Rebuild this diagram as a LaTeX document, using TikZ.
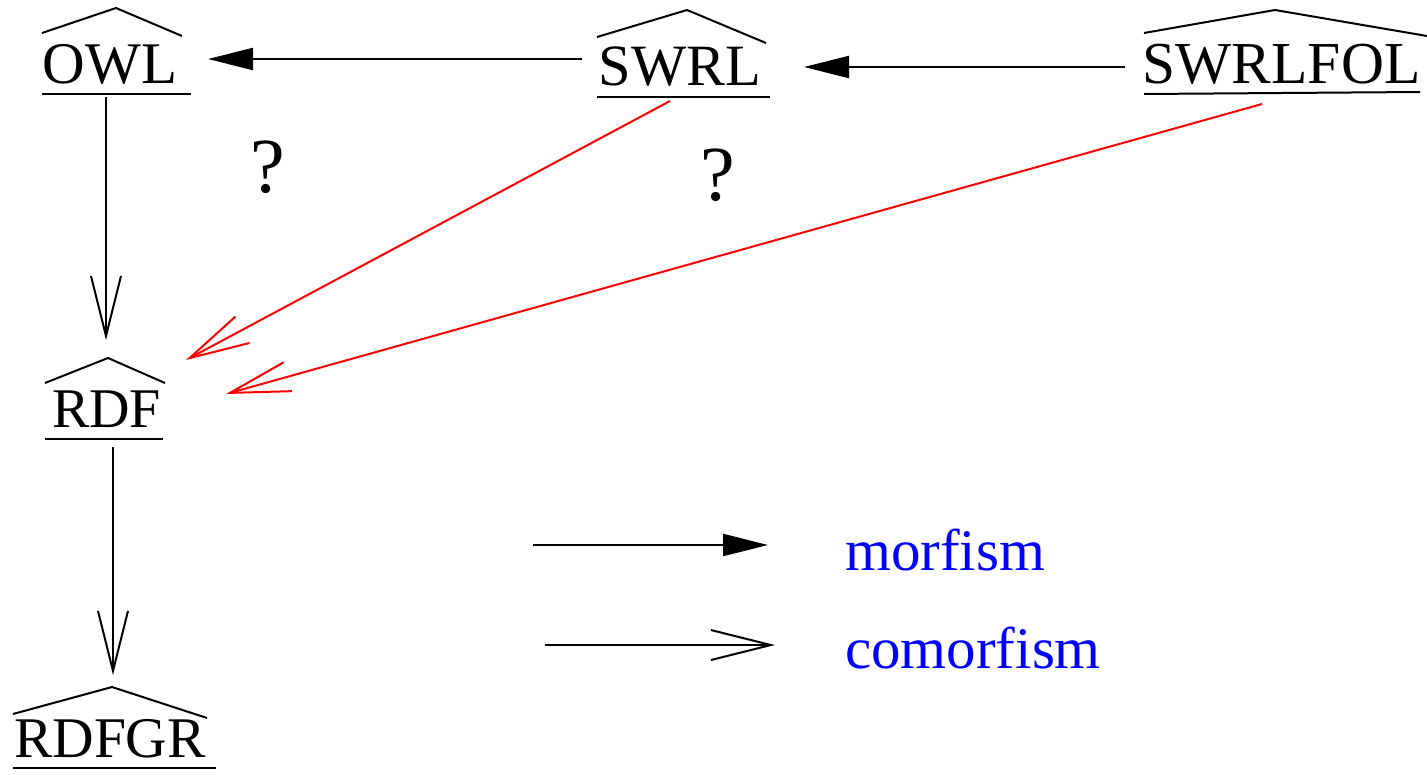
\documentclass[tikz,border=0pt]{standalone}
\usepackage{fontspec}
\setmainfont{Liberation Serif}
\usetikzlibrary{arrows.meta,calc}
\definecolor{legblue}{RGB}{0,0,255}
\begin{document}
\begin{tikzpicture}[x=1pt,y=-1pt,
  lbl/.style={anchor=base,inner sep=0pt,font=\fontsize{#1}{#1}\selectfont},
  leg/.style={anchor=base west,inner sep=0pt,text=legblue,font=\fontsize{59}{59}\selectfont},
  hatline/.style={line width=2pt},
  morf/.style={line width=2pt,-{Triangle[length=45pt,width=22pt]}},
  comorf/.style={line width=2pt,-{Straight Barb[length=60pt,width=30pt]}},
  redcomorf/.style={comorf,red}]
\useasboundingbox (0,0) rectangle (1427,774);
% labels
\node[lbl=59] (OWL) at (110,83) {OWL};
\node[lbl=58.5] (SWRL) at (680,85) {SWRL};
\node[lbl=59.5] (SWRLFOL) at (1281.5,83) {SWRLFOL};
\node[lbl=56] (RDF) at (106.5,427) {RDF};
\node[lbl=57.5] (RDFGR) at (110,757) {RDFGR};
\node[lbl=78] (q1) at (268,192) {?};
\node[lbl=78] (q2) at (718,200) {?};
% hats and underlines
\draw[hatline] (42,33) -- (116,8) -- (182,36);
\draw[hatline] (42,94) -- (191,94);
\draw[hatline] (597,37) -- (687,10) -- (766,43);
\draw[hatline] (597,97) -- (770,97);
\draw[hatline] (1144,33) -- (1275,10) -- (1427,36);
\draw[hatline] (1144,94) -- (1420,92);
\draw[hatline] (45,383) -- (108,358) -- (165,383);
\draw[hatline] (45,439) -- (163,439);
\draw[hatline] (13,714) -- (112,687) -- (207,718);
\draw[hatline] (13,768) -- (216,768);
% connectors
\draw[morf] ($(SWRL.base)+(-98,-26)$) -- ($(OWL.base)+(98,-24)$);
\draw[morf] ($(SWRLFOL.base)+(-156.5,-16)$) -- ($(SWRL.base)+(124,-18)$);
\draw[comorf] ($(OWL.base)+(-4,14)$) -- ($(RDF.base)+(-0.5,-87)$);
\draw[comorf] ($(RDF.base)+(6.5,20)$) -- ($(RDFGR.base)+(3,-82)$);
\draw[redcomorf] ($(SWRL.base)+(-10,16)$) -- ($(RDF.base)+(79.5,-67)$);
\draw[redcomorf] ($(SWRLFOL.base)+(-19.5,21)$) -- ($(RDF.base)+(119.5,-33)$);
% legend
\coordinate (m1) at (533,545);
\coordinate (m2) at (768,545);
\coordinate (c1) at (545,645);
\coordinate (c2) at (775,645);
\draw[morf] (m1) -- (m2);
\draw[comorf] (c1) -- (c2);
\node[leg] (morfism) at (845,570) {morfism};
\node[leg] (comorfism) at (845,668) {comorfism};
\end{tikzpicture}
\end{document}
